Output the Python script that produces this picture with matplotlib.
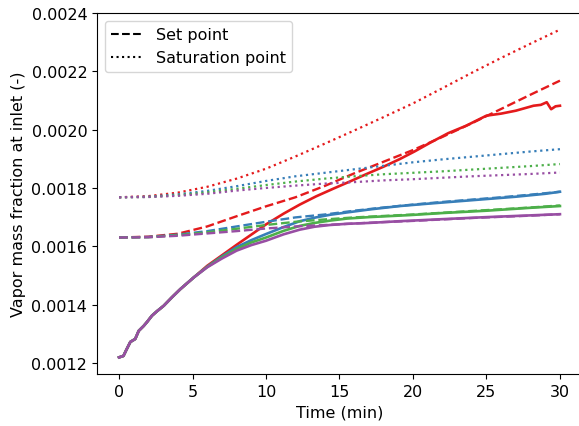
import numpy as np
import matplotlib
matplotlib.use("Agg")
import matplotlib.pyplot as plt
from matplotlib.lines import Line2D

# Set1 colours
colors = ["#e41a1c", "#377eb8", "#4daf4a", "#984ea3"]

# measured inlet vapour fraction, common start (0-5 min)
t_start = [0, 0.3, 0.5, 0.77, 1.1, 1.34, 1.68, 1.9, 2.24, 2.6, 3.04, 3.6, 4.17, 5.08]
y_start = [0.001219, 0.001224, 0.001245, 0.001272, 0.001282, 0.00131, 0.001327, 0.00134,
           0.001362, 0.001378, 0.001396, 0.001425, 0.001453, 0.001493]

# measured, after the curves split
t_red = [6, 7, 8, 9, 10, 11.2, 12.3, 13.4, 14.6, 15.7, 16.85, 18, 19.1, 20.1,
         21.2, 22.4, 23.6, 25, 26, 27, 28.2, 28.7, 29.1, 29.4, 29.7, 30]
y_red = [0.001533, 0.001569, 0.001605, 0.00164, 0.001675, 0.001712, 0.001743,
         0.001771, 0.001798, 0.001822, 0.001848, 0.001873, 0.001899, 0.001925, 0.001956,
         0.001988, 0.002013, 0.002048, 0.002055, 0.002065, 0.002082, 0.002085, 0.002094,
         0.00207, 0.00208, 0.002082]
t_blue = [6, 7, 8, 9, 10, 11.2, 12.3, 13.4, 14.35, 15.5, 17, 19.1, 21, 23, 25, 27, 29, 30]
y_blue = [0.00153, 0.001565, 0.001597, 0.001621, 0.001642, 0.001666, 0.001686, 0.001699,
          0.001708, 0.001716, 0.001726, 0.001738, 0.001746, 0.001754, 0.001762, 0.00177,
          0.00178, 0.001787]
t_green = [6, 7, 8, 9, 10, 11.2, 12.3, 13.3, 14.35, 15.5, 17, 19.8, 22, 25, 28, 30]
y_green = [0.001529, 0.001562, 0.001591, 0.001613, 0.00163, 0.001653, 0.00167, 0.00168,
           0.001688, 0.001695, 0.0017, 0.001707, 0.001714, 0.001722, 0.001732, 0.001738]
t_purple = [6, 7, 8, 9, 10, 11.2, 12.3, 13.3, 14.35, 15.5, 17, 19.1, 22, 25, 28, 30]
y_purple = [0.001528, 0.001558, 0.001585, 0.001604, 0.001619, 0.001641, 0.001657, 0.001667,
            0.001673, 0.001677, 0.00168, 0.001686, 0.001693, 0.0017, 0.001706, 0.00171]

# set point and saturation point curves (every 2 min)
t_ref = [0, 2, 4, 6, 8, 10, 12, 14, 16, 18, 20, 22, 24, 26, 28, 30]
set_red = [0.00163, 0.001633, 0.001643, 0.001668, 0.001703, 0.001737, 0.001768, 0.001807,
           0.00185, 0.00189, 0.00193, 0.001975, 0.002022, 0.002071, 0.00212, 0.002168]
set_blue = [0.00163, 0.001632, 0.00164, 0.001652, 0.001668, 0.001684, 0.001699, 0.001709,
            0.001722, 0.001733, 0.001743, 0.001752, 0.00176, 0.001768, 0.001777, 0.001787]
set_green = [0.00163, 0.001631, 0.001638, 0.001648, 0.00166, 0.001673, 0.001684, 0.001692,
             0.001699, 0.001704, 0.001709, 0.001715, 0.001721, 0.001727, 0.001733, 0.00174]
set_purple = [0.00163, 0.001631, 0.001636, 0.001644, 0.001652, 0.001661, 0.001668, 0.001673,
              0.001678, 0.001683, 0.001687, 0.001692, 0.001697, 0.001701, 0.001705, 0.00171]
sat_red = [0.001768, 0.001772, 0.001784, 0.001804, 0.001832, 0.001866, 0.001908, 0.001952,
           0.001997, 0.002043, 0.00209, 0.002142, 0.002195, 0.002246, 0.002295, 0.002343]
sat_blue = [0.001768, 0.00177, 0.001778, 0.00179, 0.001806, 0.001824, 0.00184, 0.001852,
            0.001864, 0.001876, 0.001888, 0.001898, 0.001907, 0.001916, 0.001925, 0.001933]
sat_green = [0.001768, 0.001769, 0.001775, 0.001785, 0.001797, 0.00181, 0.001822, 0.001832,
             0.00184, 0.001847, 0.001852, 0.001857, 0.001863, 0.001869, 0.001875, 0.001882]
sat_purple = [0.001768, 0.001769, 0.001773, 0.00178, 0.001791, 0.0018, 0.001808, 0.001815,
              0.00182, 0.001826, 0.00183, 0.001835, 0.00184, 0.001844, 0.001848, 0.001853]

measured = [(t_red, y_red), (t_blue, y_blue), (t_green, y_green), (t_purple, y_purple)]
set_points = [set_red, set_blue, set_green, set_purple]
sat_points = [sat_red, sat_blue, sat_green, sat_purple]

plt.rcParams["font.size"] = 11.5

fig = plt.figure(figsize=(5.79, 4.27), dpi=100)
ax = fig.add_axes([0.1675, 0.1218, 0.8377, 0.8454])

for i in range(4):
    c = colors[i]
    t_m, y_m = measured[i]
    ax.plot(t_start + t_m, y_start + y_m, color=c, lw=1.9)
    ax.plot(t_ref, set_points[i], color=c, lw=1.7, ls="--")
    ax.plot(t_ref, sat_points[i], color=c, lw=1.6, ls=":")

ax.set_xlim(-1.5, 31.5)
ax.set_ylim(0.001162, 0.0024)
ax.set_xticks([0, 5, 10, 15, 20, 25, 30])
ax.set_yticks([0.0012, 0.0014, 0.0016, 0.0018, 0.0020, 0.0022, 0.0024])
ax.set_yticklabels(["0.0012", "0.0014", "0.0016", "0.0018", "0.0020", "0.0022", "0.0024"])
ax.set_xlabel("Time (min)")
ax.set_ylabel("Vapor mass fraction at inlet (-)")

handles = [
    Line2D([], [], color="black", ls="--", lw=1.5),
    Line2D([], [], color="black", ls=":", lw=1.5),
]
ax.legend(handles, ["Set point", "Saturation point"], loc="upper left")

fig.savefig("out.png", dpi=100)
